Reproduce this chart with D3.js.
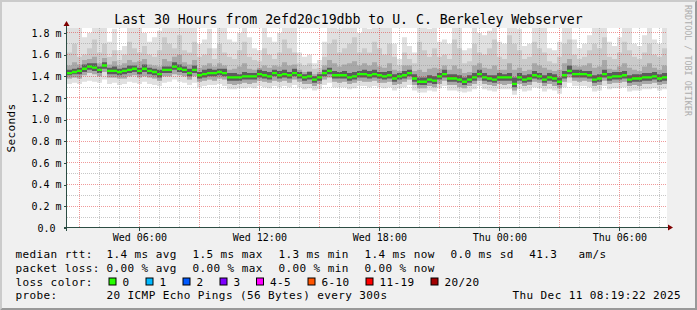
<!DOCTYPE html>
<html>
<head>
<meta charset="utf-8">
<script src="https://cdn.jsdelivr.net/npm/d3@7"></script>
<style>
  body { margin: 0; background: #f0f0f0; }
  svg text { font-family: "DejaVu Sans Mono", monospace; fill: #000; white-space: pre; }
</style>
</head>
<body>
<div id="plot"></div>
<script>
// Median RTT (ms), one value per 15 minute step, 30 hours
var medianRtt = [
  1.43,1.44,1.45,1.47,1.49,1.48,1.46,1.50,1.45,1.45,
  1.44,1.45,1.46,1.47,1.45,1.47,1.45,1.44,1.42,1.46,
  1.46,1.49,1.47,1.46,1.43,1.46,1.41,1.42,1.43,1.43,
  1.44,1.43,1.39,1.39,1.39,1.40,1.40,1.40,1.42,1.41,
  1.40,1.43,1.41,1.42,1.41,1.43,1.41,1.39,1.40,1.37,
  1.39,1.43,1.45,1.41,1.41,1.41,1.39,1.40,1.42,1.42,
  1.41,1.42,1.41,1.40,1.41,1.38,1.40,1.41,1.43,1.38,
  1.35,1.35,1.37,1.36,1.40,1.42,1.38,1.38,1.37,1.35,
  1.37,1.39,1.42,1.39,1.38,1.37,1.39,1.39,1.39,1.33,
  1.39,1.37,1.38,1.41,1.40,1.37,1.39,1.38,1.35,1.41,
  1.45,1.42,1.42,1.42,1.41,1.37,1.38,1.42,1.39,1.40,
  1.40,1.41,1.37,1.38,1.38,1.39,1.39,1.40,1.38,1.39,
  1.41
];

// Smoke: spread of the 20 pings per step (ms)
var smokeMax = [
  1.90,1.90,1.86,1.76,1.80,1.90,1.90,1.88,1.72,1.84,
  1.64,1.68,1.90,1.90,1.86,1.80,1.72,1.76,1.82,1.90,
  1.90,1.88,1.90,1.90,1.86,1.90,1.70,1.74,1.84,1.66,
  1.90,1.86,1.74,1.72,1.80,1.90,1.76,1.66,1.64,1.86,
  1.76,1.72,1.80,1.90,1.90,1.86,1.62,1.58,1.60,1.52,
  1.55,1.72,1.90,1.90,1.84,1.90,1.88,1.90,1.80,1.90,
  1.84,1.90,1.90,1.86,1.90,1.70,1.56,1.76,1.68,1.62,
  1.90,1.90,1.84,1.90,1.72,1.74,1.70,1.90,1.86,1.64,
  1.66,1.90,1.80,1.78,1.82,1.90,1.72,1.70,1.90,1.90,
  1.84,1.68,1.70,1.90,1.90,1.86,1.66,1.64,1.72,1.90,
  1.90,1.74,1.66,1.70,1.78,1.90,1.90,1.90,1.72,1.68,
  1.76,1.90,1.86,1.70,1.68,1.78,1.90,1.74,1.70,1.86,
  1.90
];
var smokeHi = [
  1.62,1.70,1.58,1.60,1.66,1.74,1.62,1.70,1.58,1.64,
  1.55,1.60,1.72,1.66,1.62,1.68,1.60,1.58,1.64,1.76,
  1.70,1.66,1.78,1.64,1.62,1.72,1.58,1.60,1.66,1.56,
  1.70,1.62,1.58,1.56,1.64,1.72,1.58,1.55,1.54,1.66,
  1.60,1.56,1.62,1.74,1.66,1.62,1.52,1.50,1.52,1.47,
  1.48,1.58,1.70,1.74,1.62,1.66,1.70,1.76,1.62,1.66,
  1.62,1.72,1.66,1.60,1.70,1.58,1.50,1.62,1.56,1.52,
  1.72,1.64,1.58,1.66,1.58,1.60,1.56,1.74,1.66,1.52,
  1.54,1.70,1.62,1.60,1.66,1.74,1.58,1.56,1.78,1.70,
  1.64,1.56,1.58,1.72,1.66,1.62,1.54,1.52,1.58,1.70,
  1.74,1.60,1.56,1.58,1.64,1.70,1.66,1.76,1.58,1.56,
  1.62,1.72,1.64,1.58,1.56,1.62,1.70,1.60,1.58,1.66,
  1.70
];
var smokeMid = [
  1.50,1.53,1.51,1.55,1.56,1.58,1.52,1.57,1.51,1.54,
  1.50,1.52,1.55,1.53,1.54,1.56,1.51,1.50,1.49,1.56,
  1.54,1.58,1.60,1.53,1.51,1.55,1.48,1.50,1.52,1.49,
  1.52,1.50,1.46,1.47,1.49,1.52,1.47,1.46,1.48,1.50,
  1.48,1.50,1.49,1.53,1.50,1.51,1.46,1.44,1.45,1.42,
  1.44,1.50,1.55,1.52,1.49,1.51,1.52,1.54,1.50,1.52,
  1.50,1.53,1.49,1.48,1.52,1.46,1.45,1.50,1.50,1.45,
  1.46,1.44,1.47,1.48,1.47,1.50,1.46,1.50,1.47,1.43,
  1.44,1.50,1.52,1.48,1.47,1.50,1.46,1.46,1.52,1.46,
  1.48,1.45,1.46,1.52,1.50,1.48,1.46,1.45,1.46,1.52,
  1.56,1.50,1.49,1.50,1.52,1.48,1.49,1.55,1.47,1.46,
  1.49,1.52,1.48,1.46,1.45,1.49,1.52,1.48,1.46,1.50,
  1.50
];
var smokeCoreHi = [
  1.46,1.47,1.48,1.51,1.52,1.52,1.49,1.53,1.48,1.49,
  1.47,1.48,1.50,1.50,1.48,1.51,1.48,1.47,1.46,1.49,
  1.49,1.53,1.51,1.49,1.47,1.50,1.44,1.46,1.47,1.46,
  1.47,1.47,1.43,1.43,1.42,1.44,1.43,1.43,1.46,1.45,
  1.44,1.46,1.45,1.46,1.44,1.47,1.44,1.42,1.44,1.40,
  1.42,1.46,1.48,1.45,1.44,1.45,1.43,1.44,1.45,1.46,
  1.45,1.46,1.44,1.44,1.45,1.42,1.43,1.45,1.46,1.42,
  1.39,1.39,1.41,1.40,1.43,1.46,1.42,1.42,1.41,1.39,
  1.41,1.43,1.46,1.43,1.41,1.41,1.43,1.42,1.43,1.39,
  1.43,1.41,1.42,1.45,1.43,1.41,1.43,1.42,1.39,1.45,
  1.50,1.46,1.46,1.45,1.45,1.41,1.42,1.46,1.43,1.44,
  1.44,1.45,1.41,1.42,1.42,1.43,1.43,1.44,1.42,1.43,
  1.45
];
var smokeCoreLo = [
  1.41,1.42,1.42,1.44,1.46,1.45,1.43,1.47,1.42,1.42,
  1.41,1.42,1.43,1.44,1.42,1.44,1.42,1.41,1.39,1.43,
  1.43,1.46,1.44,1.43,1.40,1.43,1.38,1.39,1.40,1.40,
  1.41,1.40,1.36,1.36,1.36,1.37,1.37,1.37,1.39,1.38,
  1.37,1.40,1.38,1.39,1.38,1.40,1.38,1.36,1.37,1.34,
  1.36,1.40,1.42,1.38,1.38,1.38,1.36,1.37,1.39,1.39,
  1.38,1.39,1.38,1.37,1.38,1.35,1.37,1.38,1.40,1.35,
  1.32,1.32,1.34,1.33,1.37,1.39,1.35,1.35,1.34,1.32,
  1.34,1.36,1.39,1.36,1.35,1.34,1.36,1.36,1.36,1.30,
  1.36,1.34,1.35,1.38,1.37,1.34,1.36,1.35,1.32,1.38,
  1.42,1.39,1.39,1.39,1.38,1.34,1.35,1.39,1.36,1.37,
  1.37,1.38,1.34,1.35,1.35,1.36,1.36,1.37,1.35,1.36,
  1.38
];
var smokeLo = [
  1.38,1.39,1.38,1.41,1.43,1.42,1.40,1.44,1.39,1.39,
  1.38,1.38,1.40,1.41,1.39,1.40,1.39,1.38,1.36,1.40,
  1.40,1.42,1.41,1.40,1.37,1.40,1.35,1.36,1.37,1.36,
  1.38,1.37,1.33,1.32,1.33,1.34,1.33,1.34,1.36,1.35,
  1.34,1.36,1.35,1.36,1.34,1.37,1.35,1.33,1.33,1.31,
  1.33,1.37,1.39,1.35,1.34,1.35,1.33,1.34,1.36,1.35,
  1.35,1.36,1.34,1.34,1.35,1.32,1.33,1.35,1.37,1.32,
  1.29,1.29,1.31,1.30,1.33,1.36,1.32,1.32,1.30,1.29,
  1.31,1.33,1.36,1.33,1.32,1.31,1.33,1.32,1.33,1.27,
  1.33,1.31,1.32,1.35,1.34,1.31,1.33,1.31,1.29,1.35,
  1.39,1.36,1.35,1.36,1.35,1.31,1.32,1.36,1.33,1.34,
  1.34,1.35,1.31,1.32,1.31,1.33,1.33,1.34,1.32,1.33,
  1.35
];
var smokeMin = [
  1.33,1.34,1.33,1.35,1.36,1.35,1.34,1.37,1.33,1.34,
  1.32,1.33,1.35,1.34,1.33,1.35,1.33,1.32,1.31,1.34,
  1.35,1.37,1.35,1.34,1.32,1.34,1.30,1.31,1.32,1.32,
  1.33,1.31,1.28,1.28,1.29,1.29,1.30,1.29,1.31,1.30,
  1.29,1.31,1.30,1.31,1.30,1.32,1.30,1.28,1.29,1.27,
  1.28,1.32,1.34,1.30,1.30,1.30,1.28,1.29,1.31,1.31,
  1.30,1.31,1.30,1.29,1.30,1.27,1.29,1.30,1.32,1.27,
  1.25,1.25,1.27,1.26,1.29,1.31,1.27,1.27,1.26,1.25,
  1.26,1.28,1.31,1.28,1.27,1.26,1.28,1.28,1.28,1.23,
  1.28,1.26,1.27,1.30,1.29,1.26,1.28,1.27,1.24,1.30,
  1.34,1.31,1.31,1.31,1.30,1.26,1.27,1.31,1.28,1.29,
  1.29,1.30,1.26,1.27,1.27,1.28,1.28,1.29,1.27,1.28,
  1.30
];

// Axis ticks and legend texts
var yMajorTicks = [0, 0.2, 0.4, 0.6, 0.8, 1.0, 1.2, 1.4, 1.6, 1.8];
var yMinorTicks = [0.1, 0.3, 0.5, 0.7, 0.9, 1.1, 1.3, 1.5, 1.7];
var titleText = "Last 30 Hours from 2efd20c19dbb to U. C. Berkeley Webserver";
var rttStats = ["1.4 ms avg", "1.5 ms max", "1.3 ms min", "1.4 ms now", "0.0 ms sd", "41.3", "am/s"];
var lossStats = ["0.00 % avg", "0.00 % max", "0.00 % min", "0.00 % now"];
var lossBins = ["0", "1", "2", "3", "4-5", "6-10", "11-19", "20/20"];
var lossColors = ["#26ff00", "#00b8ff", "#0059ff", "#7e00ff", "#ff00ff", "#ff5500", "#ff0000", "#a10000"];
var probeText = "20 ICMP Echo Pings (56 Bytes) every 300s";
var stampText = "Thu Dec 11 08:19:22 2025";

var startTime = new Date(2025, 11, 10, 2, 23);
var endTime = d3.timeHour.offset(startTime, 30);
var stepMinutes = 15;
var times = medianRtt.map(function(d, i) { return d3.timeMinute.offset(startTime, i * stepMinutes); });

// SVG area
var svgWidth = 697;
var svgHeight = 310;
var margin = { top: 28, left: 67 };
var chartWidth = 600;
var chartHeight = 200;

var svg = d3.select("#plot")
  .append("svg")
  .attr("width", svgWidth)
  .attr("height", svgHeight);

svg.append("rect")
  .attr("width", svgWidth)
  .attr("height", svgHeight)
  .attr("fill", "#f0f0f0");

// 3d border, light top/left, dark bottom/right
svg.append("path")
  .attr("d", "M0,0H697L695,2H2V308L0,310Z")
  .attr("fill", "#cbcbcb");
svg.append("path")
  .attr("d", "M697,0V310H0L2,308H695V2Z")
  .attr("fill", "#999999");

var chartGroup = svg.append("g")
  .attr("transform", `translate(${margin.left}, ${margin.top})`);

chartGroup.append("rect")
  .attr("width", chartWidth)
  .attr("height", chartHeight)
  .attr("fill", "#ffffff");

svg.append("clipPath").attr("id", "clip")
  .append("rect").attr("width", chartWidth).attr("height", chartHeight);

// scales
var xTimeScale = d3.scaleTime()
  .domain([startTime, endTime])
  .range([0, chartWidth]);

var yLinearScale = d3.scaleLinear()
  .domain([0, 1.8461])
  .range([chartHeight, 0]);

// smoke layers
var smokeLayers = [
  { lo: smokeMin, hi: smokeMax, color: "#e0e0e0" },
  { lo: smokeLo, hi: smokeHi, color: "#cacaca" },
  { lo: smokeLo, hi: smokeMid, color: "#a8a8a8" },
  { lo: smokeCoreLo, hi: smokeCoreHi, color: "#5c5c5c" }
];

var smokeGroup = chartGroup.append("g").attr("clip-path", "url(#clip)");

smokeLayers.forEach(function(layer) {
  var band = d3.area()
    .x(function(d, i) { return xTimeScale(times[i]); })
    .y0(function(d, i) { return yLinearScale(layer.lo[i]); })
    .y1(function(d, i) { return yLinearScale(layer.hi[i]); })
    .curve(d3.curveStepAfter);
  smokeGroup.append("path")
    .attr("d", band(medianRtt))
    .attr("fill", layer.color);
});

// grid
var gridGroup = chartGroup.append("g").attr("shape-rendering", "crispEdges");

var hourLines = d3.timeHour.every(1).range(startTime, endTime);
gridGroup.selectAll(".vminor")
  .data(hourLines.filter(function(t) { return t.getHours() % 3 !== 0; }))
  .enter().append("line")
  .attr("x1", function(d) { return xTimeScale(d); })
  .attr("x2", function(d) { return xTimeScale(d); })
  .attr("y1", 0).attr("y2", chartHeight)
  .attr("stroke", "rgba(143,143,143,0.5)")
  .attr("stroke-dasharray", "1,1");

gridGroup.selectAll(".hminor")
  .data(yMinorTicks)
  .enter().append("line")
  .attr("x1", 0).attr("x2", chartWidth)
  .attr("y1", function(d) { return yLinearScale(d); })
  .attr("y2", function(d) { return yLinearScale(d); })
  .attr("stroke", "rgba(143,143,143,0.5)")
  .attr("stroke-dasharray", "1,1");

gridGroup.selectAll(".vmajor")
  .data(hourLines.filter(function(t) { return t.getHours() % 3 === 0; }))
  .enter().append("line")
  .attr("x1", function(d) { return xTimeScale(d); })
  .attr("x2", function(d) { return xTimeScale(d); })
  .attr("y1", 0).attr("y2", chartHeight)
  .attr("stroke", "rgba(222,30,30,0.45)")
  .attr("stroke-dasharray", "1,1");

gridGroup.selectAll(".hmajor")
  .data(yMajorTicks.filter(function(d) { return d > 0; }))
  .enter().append("line")
  .attr("x1", 0).attr("x2", chartWidth)
  .attr("y1", function(d) { return yLinearScale(d); })
  .attr("y2", function(d) { return yLinearScale(d); })
  .attr("stroke", "rgba(222,30,30,0.45)")
  .attr("stroke-dasharray", "1,1");

// median line, drawn as short green bars (no vertical joins)
var medianBand = d3.area()
  .x(function(d, i) { return xTimeScale(times[i]); })
  .y0(function(d) { return yLinearScale(d) + 1.2; })
  .y1(function(d) { return yLinearScale(d) - 1.2; })
  .curve(d3.curveStepAfter);

chartGroup.append("path")
  .attr("clip-path", "url(#clip)")
  .attr("d", medianBand(medianRtt))
  .attr("fill", lossColors[0]);

// axes
var bottomAxis = d3.axisBottom(xTimeScale)
  .ticks(d3.timeHour.every(6))
  .tickFormat(d3.timeFormat("%a %H:%M"))
  .tickSize(3)
  .tickPadding(3);

var leftAxis = d3.axisLeft(yLinearScale)
  .tickValues(yMajorTicks)
  .tickFormat(function(d) { return d === 0 ? "0.0\u00a0" : d3.format(".1f")(d) + " m"; })
  .tickSize(3)
  .tickPadding(2.5);

var xAxisG = chartGroup.append("g")
  .attr("transform", `translate(0, ${chartHeight})`)
  .call(bottomAxis);

var yAxisG = chartGroup.append("g")
  .call(leftAxis);

[xAxisG, yAxisG].forEach(function(g) {
  g.select(".domain").remove();
  g.selectAll("line").attr("stroke", "#2c4d43").attr("shape-rendering", "crispEdges");
  g.selectAll("text")
    .attr("font-family", "DejaVu Sans Mono")
    .attr("font-size", "10px")
    .attr("fill", "#000");
});

// axis lines with arrows
chartGroup.append("line")
  .attr("x1", -0.5).attr("x2", -0.5)
  .attr("y1", chartHeight + 3).attr("y2", -2)
  .attr("stroke", "#2c4d43");
chartGroup.append("line")
  .attr("x1", -3).attr("x2", chartWidth + 3)
  .attr("y1", chartHeight - 0.5).attr("y2", chartHeight - 0.5)
  .attr("stroke", "#2c4d43");
chartGroup.append("path")
  .attr("d", "M-3.5,-2 L2.5,-2 L-0.5,-7 Z")
  .attr("fill", "#7f0000");
chartGroup.append("path")
  .attr("d", `M${chartWidth + 1},${chartHeight - 3.5} L${chartWidth + 1},${chartHeight + 2.5} L${chartWidth + 6},${chartHeight - 0.5} Z`)
  .attr("fill", "#7f0000");

// title
svg.append("text")
  .attr("x", svgWidth / 2)
  .attr("y", 23.5)
  .attr("text-anchor", "middle")
  .attr("font-size", "13.2px")
  .text(titleText);

// y axis label
svg.append("text")
  .attr("transform", "translate(15, 128) rotate(-90)")
  .attr("text-anchor", "middle")
  .attr("font-size", "11px")
  .attr("letter-spacing", "0.4px")
  .text("Seconds");

// rrdtool credit
svg.append("text")
  .attr("transform", "translate(685, 5) rotate(90)")
  .attr("font-size", "8.4px")
  .style("fill", "#adadad")
  .text("RRDTOOL / TOBI OETIKER");

// legend
var legendGroup = svg.append("g")
  .attr("font-size", "11px")
  .attr("letter-spacing", "0.4px");

var rowY = [258.3, 271.8, 285.6, 299.3];
var rowNames = ["median rtt:", "packet loss:", "loss color:", "probe:"];
var statX = [106.5, 192.5, 278.5, 364.5, 450.5, 529.2, 578.5];
var boxX = [108.5, 145.5, 182.5, 219.5, 256, 307.5, 365.5, 430.5];

legendGroup.selectAll(".rowname")
  .data(rowNames)
  .enter().append("text")
  .attr("x", 15.5)
  .attr("y", function(d, i) { return rowY[i]; })
  .text(function(d) { return d; });

legendGroup.selectAll(".rtt")
  .data(rttStats)
  .enter().append("text")
  .attr("x", function(d, i) { return statX[i]; })
  .attr("y", rowY[0])
  .text(function(d) { return d; });

legendGroup.selectAll(".loss")
  .data(lossStats)
  .enter().append("text")
  .attr("x", function(d, i) { return statX[i]; })
  .attr("y", rowY[1])
  .text(function(d) { return d; });

legendGroup.selectAll(".lossbox")
  .data(lossColors)
  .enter().append("rect")
  .attr("x", function(d, i) { return boxX[i] + 0.5; })
  .attr("y", rowY[2] - 7.6)
  .attr("width", 7)
  .attr("height", 7)
  .attr("fill", function(d) { return d; })
  .attr("stroke", "#000")
  .attr("stroke-width", 1);

legendGroup.selectAll(".lossbin")
  .data(lossBins)
  .enter().append("text")
  .attr("x", function(d, i) { return boxX[i] + 14; })
  .attr("y", rowY[2])
  .text(function(d) { return d; });

legendGroup.append("text")
  .attr("x", statX[0])
  .attr("y", rowY[3])
  .text(probeText);

legendGroup.append("text")
  .attr("x", 512.5)
  .attr("y", rowY[3])
  .text(stampText);
</script>
</body>
</html>
